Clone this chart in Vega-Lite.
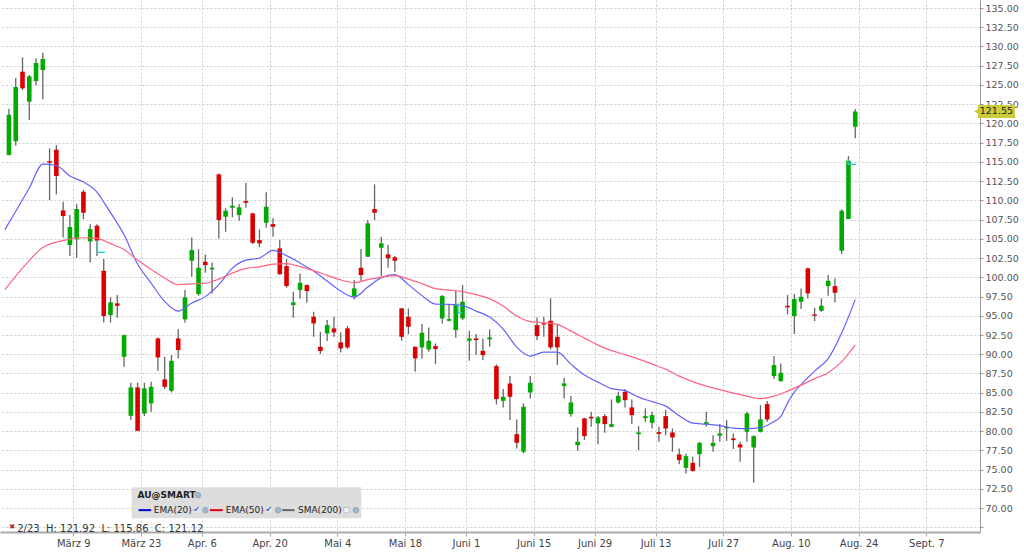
{
  "$schema": "https://vega.github.io/schema/vega-lite/v6.json",
  "width": 980,
  "height": 532,
  "autosize": {"type": "none"},
  "padding": {"left": 0, "top": 0, "right": 44, "bottom": 23},
  "background": "white",
  "config": {
    "view": {"stroke": null},
    "font": "DejaVu Sans"
  },
  "datasets": {
    "candles": [
      {"i": 0, "o": 115.9, "h": 121.92, "l": 115.86, "c": 121.12},
      {"i": 1, "o": 117.67, "h": 125.9, "l": 117.1, "c": 124.73},
      {"i": 2, "o": 126.72, "h": 128.59, "l": 124.34, "c": 124.56},
      {"i": 3, "o": 122.82, "h": 126.29, "l": 120.44, "c": 126.12},
      {"i": 4, "o": 125.51, "h": 128.46, "l": 124.95, "c": 127.85},
      {"i": 5, "o": 126.94, "h": 129.19, "l": 123.13, "c": 128.37},
      {"i": 6, "o": 115.1, "h": 116.76, "l": 110.04, "c": 114.9},
      {"i": 7, "o": 116.58, "h": 117.19, "l": 110.78, "c": 113.16},
      {"i": 8, "o": 108.7, "h": 109.82, "l": 105.19, "c": 107.96},
      {"i": 9, "o": 104.19, "h": 108.09, "l": 102.76, "c": 106.53},
      {"i": 10, "o": 104.93, "h": 109.52, "l": 102.54, "c": 108.87},
      {"i": 11, "o": 111.12, "h": 111.38, "l": 107.57, "c": 108.39},
      {"i": 12, "o": 104.67, "h": 106.88, "l": 101.94, "c": 106.27},
      {"i": 13, "o": 106.7, "h": 106.88, "l": 102.76, "c": 104.75},
      {"i": 14, "o": 100.85, "h": 102.37, "l": 94.14, "c": 94.96},
      {"i": 15, "o": 95.09, "h": 97.39, "l": 94.14, "c": 96.74},
      {"i": 16, "o": 96.61, "h": 97.69, "l": 94.74, "c": 96.3},
      {"i": 17, "o": 89.67, "h": 92.58, "l": 88.37, "c": 92.49},
      {"i": 18, "o": 82.0, "h": 86.29, "l": 81.44, "c": 85.69},
      {"i": 19, "o": 85.69, "h": 86.29, "l": 80.0, "c": 80.05},
      {"i": 20, "o": 82.31, "h": 86.29, "l": 81.96, "c": 85.56},
      {"i": 21, "o": 83.61, "h": 86.42, "l": 82.52, "c": 85.77},
      {"i": 22, "o": 92.06, "h": 92.19, "l": 87.85, "c": 89.59},
      {"i": 23, "o": 86.73, "h": 89.67, "l": 85.47, "c": 85.77},
      {"i": 24, "o": 85.25, "h": 89.89, "l": 85.04, "c": 89.15},
      {"i": 25, "o": 92.06, "h": 93.27, "l": 89.46, "c": 90.54},
      {"i": 26, "o": 94.53, "h": 98.34, "l": 94.14, "c": 97.39},
      {"i": 27, "o": 102.15, "h": 105.19, "l": 100.07, "c": 103.54},
      {"i": 28, "o": 97.82, "h": 103.63, "l": 97.6, "c": 101.24},
      {"i": 29, "o": 102.02, "h": 102.98, "l": 100.59, "c": 101.59},
      {"i": 30, "o": 101.03, "h": 101.94, "l": 97.91, "c": 101.24},
      {"i": 31, "o": 113.38, "h": 113.5, "l": 105.06, "c": 107.44},
      {"i": 32, "o": 107.87, "h": 108.96, "l": 105.92, "c": 108.65},
      {"i": 33, "o": 109.04, "h": 110.39, "l": 107.79, "c": 109.3},
      {"i": 34, "o": 108.09, "h": 109.52, "l": 107.35, "c": 109.09},
      {"i": 35, "o": 109.91, "h": 112.29, "l": 109.04, "c": 109.69},
      {"i": 36, "o": 108.31, "h": 108.4, "l": 104.32, "c": 104.49},
      {"i": 37, "o": 104.84, "h": 106.23, "l": 103.89, "c": 104.41},
      {"i": 38, "o": 107.09, "h": 111.04, "l": 106.44, "c": 109.17},
      {"i": 39, "o": 106.92, "h": 107.66, "l": 105.27, "c": 106.57},
      {"i": 40, "o": 103.76, "h": 104.84, "l": 100.29, "c": 100.42},
      {"i": 41, "o": 101.46, "h": 102.37, "l": 98.64, "c": 98.86},
      {"i": 42, "o": 96.39, "h": 98.12, "l": 94.74, "c": 96.74},
      {"i": 43, "o": 98.34, "h": 100.51, "l": 97.26, "c": 99.29},
      {"i": 44, "o": 98.99, "h": 99.1, "l": 96.69, "c": 98.21},
      {"i": 45, "o": 94.87, "h": 95.52, "l": 92.27, "c": 94.01},
      {"i": 46, "o": 90.97, "h": 92.92, "l": 90.02, "c": 90.41},
      {"i": 47, "o": 92.71, "h": 94.44, "l": 91.71, "c": 93.79},
      {"i": 48, "o": 93.36, "h": 94.87, "l": 92.27, "c": 92.84},
      {"i": 49, "o": 91.54, "h": 92.84, "l": 90.24, "c": 90.76},
      {"i": 50, "o": 93.36, "h": 93.7, "l": 90.67, "c": 90.89},
      {"i": 51, "o": 97.56, "h": 99.64, "l": 97.13, "c": 98.56},
      {"i": 52, "o": 101.24, "h": 103.67, "l": 99.55, "c": 100.29},
      {"i": 53, "o": 102.67, "h": 107.44, "l": 102.67, "c": 107.01},
      {"i": 54, "o": 108.87, "h": 112.08, "l": 107.44, "c": 108.39},
      {"i": 55, "o": 103.84, "h": 105.27, "l": 100.16, "c": 104.41},
      {"i": 56, "o": 102.98, "h": 104.19, "l": 101.24, "c": 102.46},
      {"i": 57, "o": 102.6, "h": 102.76, "l": 100.72, "c": 102.15},
      {"i": 58, "o": 95.96, "h": 96.04, "l": 91.75, "c": 92.27},
      {"i": 59, "o": 94.87, "h": 95.96, "l": 92.62, "c": 93.57},
      {"i": 60, "o": 90.97, "h": 91.0, "l": 87.72, "c": 89.46},
      {"i": 61, "o": 90.89, "h": 93.92, "l": 89.46, "c": 92.79},
      {"i": 62, "o": 90.63, "h": 93.49, "l": 90.32, "c": 91.75},
      {"i": 63, "o": 91.06, "h": 91.41, "l": 88.72, "c": 90.67},
      {"i": 64, "o": 94.66, "h": 97.69, "l": 94.01, "c": 97.56},
      {"i": 65, "o": 94.35, "h": 96.39, "l": 94.3, "c": 94.57},
      {"i": 66, "o": 93.14, "h": 98.25, "l": 92.14, "c": 96.39},
      {"i": 67, "o": 94.66, "h": 98.99, "l": 94.44, "c": 96.82},
      {"i": 68, "o": 91.75, "h": 93.05, "l": 89.15, "c": 92.06},
      {"i": 69, "o": 92.06, "h": 92.62, "l": 89.89, "c": 91.84},
      {"i": 70, "o": 90.45, "h": 92.06, "l": 89.24, "c": 89.89},
      {"i": 71, "o": 91.93, "h": 93.23, "l": 90.97, "c": 92.19},
      {"i": 72, "o": 88.46, "h": 88.68, "l": 83.48, "c": 84.17},
      {"i": 73, "o": 83.95, "h": 85.47, "l": 83.09, "c": 84.47},
      {"i": 74, "o": 86.21, "h": 87.16, "l": 81.44, "c": 84.47},
      {"i": 75, "o": 79.62, "h": 81.53, "l": 77.76, "c": 78.49},
      {"i": 76, "o": 77.32, "h": 83.61, "l": 77.11, "c": 83.17},
      {"i": 77, "o": 85.04, "h": 87.16, "l": 84.26, "c": 86.29},
      {"i": 78, "o": 93.79, "h": 94.79, "l": 91.84, "c": 92.36},
      {"i": 79, "o": 94.01, "h": 94.87, "l": 92.27, "c": 93.85},
      {"i": 80, "o": 94.35, "h": 97.26, "l": 90.63, "c": 90.89},
      {"i": 81, "o": 92.27, "h": 93.79, "l": 88.59, "c": 90.89},
      {"i": 82, "o": 85.86, "h": 86.94, "l": 84.26, "c": 86.21},
      {"i": 83, "o": 82.22, "h": 84.56, "l": 81.87, "c": 83.74},
      {"i": 84, "o": 78.19, "h": 80.49, "l": 77.45, "c": 78.62},
      {"i": 85, "o": 81.66, "h": 81.74, "l": 78.84, "c": 79.36},
      {"i": 86, "o": 81.87, "h": 82.52, "l": 80.57, "c": 81.66},
      {"i": 87, "o": 81.01, "h": 81.96, "l": 78.32, "c": 81.79},
      {"i": 88, "o": 81.96, "h": 82.22, "l": 79.79, "c": 80.92},
      {"i": 89, "o": 80.57, "h": 84.13, "l": 80.5, "c": 80.92},
      {"i": 90, "o": 83.74, "h": 85.12, "l": 83.61, "c": 84.6},
      {"i": 91, "o": 85.12, "h": 85.47, "l": 83.09, "c": 84.04},
      {"i": 92, "o": 83.09, "h": 84.13, "l": 80.92, "c": 82.09},
      {"i": 93, "o": 79.62, "h": 80.66, "l": 77.54, "c": 79.84},
      {"i": 94, "o": 81.7, "h": 82.96, "l": 81.22, "c": 81.96},
      {"i": 95, "o": 81.09, "h": 82.52, "l": 80.36, "c": 82.09},
      {"i": 96, "o": 79.88, "h": 80.57, "l": 78.62, "c": 79.66},
      {"i": 97, "o": 81.96, "h": 82.74, "l": 79.49, "c": 80.36},
      {"i": 98, "o": 79.84, "h": 80.36, "l": 77.32, "c": 79.19},
      {"i": 99, "o": 76.98, "h": 77.76, "l": 75.72, "c": 76.24},
      {"i": 100, "o": 75.24, "h": 77.11, "l": 74.51, "c": 76.76},
      {"i": 101, "o": 75.89, "h": 76.67, "l": 74.72, "c": 74.85},
      {"i": 102, "o": 77.02, "h": 78.62, "l": 75.37, "c": 78.49},
      {"i": 103, "o": 80.92, "h": 82.52, "l": 80.57, "c": 81.18},
      {"i": 104, "o": 78.06, "h": 79.49, "l": 77.32, "c": 78.49},
      {"i": 105, "o": 79.4, "h": 80.92, "l": 78.62, "c": 79.71},
      {"i": 106, "o": 80.36, "h": 81.44, "l": 78.75, "c": 80.57},
      {"i": 107, "o": 79.06, "h": 79.71, "l": 77.67, "c": 78.84},
      {"i": 108, "o": 78.28, "h": 78.62, "l": 76.02, "c": 77.89},
      {"i": 109, "o": 79.92, "h": 82.52, "l": 78.62, "c": 82.31},
      {"i": 110, "o": 77.89, "h": 79.49, "l": 73.29, "c": 79.36},
      {"i": 111, "o": 79.92, "h": 83.39, "l": 79.84, "c": 81.53},
      {"i": 112, "o": 83.52, "h": 83.91, "l": 81.22, "c": 81.53},
      {"i": 113, "o": 87.16, "h": 89.76, "l": 86.77, "c": 88.59},
      {"i": 114, "o": 86.51, "h": 88.81, "l": 86.42, "c": 87.59},
      {"i": 115, "o": 96.3, "h": 97.69, "l": 95.18, "c": 96.1},
      {"i": 116, "o": 94.96, "h": 97.82, "l": 92.62, "c": 97.17},
      {"i": 117, "o": 96.82, "h": 98.56, "l": 95.87, "c": 97.47},
      {"i": 118, "o": 101.16, "h": 101.29, "l": 97.26, "c": 97.91},
      {"i": 119, "o": 95.18, "h": 96.04, "l": 94.31, "c": 95.0},
      {"i": 120, "o": 95.65, "h": 97.26, "l": 95.52, "c": 96.3},
      {"i": 121, "o": 98.86, "h": 100.29, "l": 97.6, "c": 99.55},
      {"i": 122, "o": 98.86, "h": 99.86, "l": 96.74, "c": 97.99},
      {"i": 123, "o": 103.45, "h": 108.83, "l": 103.02, "c": 108.65},
      {"i": 124, "o": 107.57, "h": 115.76, "l": 107.57, "c": 115.15},
      {"i": 125, "o": 119.57, "h": 121.87, "l": 118.06, "c": 121.55}
    ],
    "ema": [
      {"s": "EMA(20)", "i": -0.6, "p": 106.2},
      {"s": "EMA(20)", "i": 3, "p": 111.61},
      {"s": "EMA(20)", "i": 5, "p": 114.72},
      {"s": "EMA(20)", "i": 7, "p": 114.53},
      {"s": "EMA(20)", "i": 9, "p": 113.16},
      {"s": "EMA(20)", "i": 11, "p": 112.38},
      {"s": "EMA(20)", "i": 13, "p": 111.08},
      {"s": "EMA(20)", "i": 14, "p": 109.78},
      {"s": "EMA(20)", "i": 15, "p": 108.41},
      {"s": "EMA(20)", "i": 17, "p": 105.52},
      {"s": "EMA(20)", "i": 19, "p": 101.72},
      {"s": "EMA(20)", "i": 21, "p": 99.25},
      {"s": "EMA(20)", "i": 23, "p": 96.87},
      {"s": "EMA(20)", "i": 25, "p": 95.61},
      {"s": "EMA(20)", "i": 27, "p": 96.65},
      {"s": "EMA(20)", "i": 29, "p": 97.49},
      {"s": "EMA(20)", "i": 31, "p": 99.05},
      {"s": "EMA(20)", "i": 33, "p": 101.2},
      {"s": "EMA(20)", "i": 35, "p": 102.24},
      {"s": "EMA(20)", "i": 37, "p": 102.5},
      {"s": "EMA(20)", "i": 39, "p": 103.5},
      {"s": "EMA(20)", "i": 41, "p": 102.82},
      {"s": "EMA(20)", "i": 43, "p": 101.85},
      {"s": "EMA(20)", "i": 45, "p": 100.81},
      {"s": "EMA(20)", "i": 47, "p": 99.51},
      {"s": "EMA(20)", "i": 49, "p": 98.21},
      {"s": "EMA(20)", "i": 51, "p": 97.43},
      {"s": "EMA(20)", "i": 53, "p": 98.73},
      {"s": "EMA(20)", "i": 55, "p": 99.96},
      {"s": "EMA(20)", "i": 57, "p": 100.35},
      {"s": "EMA(20)", "i": 59, "p": 99.05},
      {"s": "EMA(20)", "i": 61, "p": 97.62},
      {"s": "EMA(20)", "i": 63, "p": 96.52},
      {"s": "EMA(20)", "i": 65, "p": 96.48},
      {"s": "EMA(20)", "i": 67, "p": 96.32},
      {"s": "EMA(20)", "i": 69, "p": 95.61},
      {"s": "EMA(20)", "i": 71, "p": 94.83},
      {"s": "EMA(20)", "i": 73, "p": 93.27},
      {"s": "EMA(20)", "i": 75, "p": 90.93},
      {"s": "EMA(20)", "i": 77, "p": 89.76},
      {"s": "EMA(20)", "i": 79, "p": 90.28},
      {"s": "EMA(20)", "i": 81, "p": 90.28},
      {"s": "EMA(20)", "i": 83, "p": 88.72},
      {"s": "EMA(20)", "i": 85, "p": 87.29},
      {"s": "EMA(20)", "i": 87, "p": 86.38},
      {"s": "EMA(20)", "i": 89, "p": 85.53},
      {"s": "EMA(20)", "i": 91, "p": 85.27},
      {"s": "EMA(20)", "i": 93, "p": 84.43},
      {"s": "EMA(20)", "i": 95, "p": 83.84},
      {"s": "EMA(20)", "i": 97, "p": 83.26},
      {"s": "EMA(20)", "i": 99, "p": 82.02},
      {"s": "EMA(20)", "i": 101, "p": 81.05},
      {"s": "EMA(20)", "i": 103, "p": 80.92},
      {"s": "EMA(20)", "i": 105, "p": 80.72},
      {"s": "EMA(20)", "i": 107, "p": 80.4},
      {"s": "EMA(20)", "i": 109, "p": 80.33},
      {"s": "EMA(20)", "i": 111, "p": 80.46},
      {"s": "EMA(20)", "i": 113, "p": 81.26},
      {"s": "EMA(20)", "i": 114, "p": 81.9},
      {"s": "EMA(20)", "i": 115, "p": 83.65},
      {"s": "EMA(20)", "i": 116, "p": 85.08},
      {"s": "EMA(20)", "i": 117, "p": 86.05},
      {"s": "EMA(20)", "i": 119, "p": 87.81},
      {"s": "EMA(20)", "i": 121, "p": 89.43},
      {"s": "EMA(20)", "i": 123, "p": 92.75},
      {"s": "EMA(20)", "i": 125, "p": 97.1},
      {"s": "EMA(50)", "i": -0.6, "p": 98.4},
      {"s": "EMA(50)", "i": 2, "p": 101.2},
      {"s": "EMA(50)", "i": 5, "p": 103.86},
      {"s": "EMA(50)", "i": 8, "p": 104.77},
      {"s": "EMA(50)", "i": 11, "p": 105.14},
      {"s": "EMA(50)", "i": 13, "p": 105.06},
      {"s": "EMA(50)", "i": 15, "p": 104.38},
      {"s": "EMA(50)", "i": 17, "p": 103.6},
      {"s": "EMA(50)", "i": 19, "p": 102.24},
      {"s": "EMA(50)", "i": 21, "p": 101.0},
      {"s": "EMA(50)", "i": 23, "p": 99.9},
      {"s": "EMA(50)", "i": 25, "p": 99.05},
      {"s": "EMA(50)", "i": 27, "p": 99.14},
      {"s": "EMA(50)", "i": 29, "p": 99.25},
      {"s": "EMA(50)", "i": 31, "p": 99.77},
      {"s": "EMA(50)", "i": 33, "p": 100.55},
      {"s": "EMA(50)", "i": 35, "p": 101.16},
      {"s": "EMA(50)", "i": 37, "p": 101.35},
      {"s": "EMA(50)", "i": 39, "p": 101.72},
      {"s": "EMA(50)", "i": 41, "p": 101.78},
      {"s": "EMA(50)", "i": 43, "p": 101.39},
      {"s": "EMA(50)", "i": 45, "p": 100.87},
      {"s": "EMA(50)", "i": 47, "p": 100.26},
      {"s": "EMA(50)", "i": 49, "p": 99.66},
      {"s": "EMA(50)", "i": 51, "p": 99.31},
      {"s": "EMA(50)", "i": 53, "p": 99.7},
      {"s": "EMA(50)", "i": 55, "p": 100.03},
      {"s": "EMA(50)", "i": 57, "p": 100.22},
      {"s": "EMA(50)", "i": 59, "p": 99.77},
      {"s": "EMA(50)", "i": 61, "p": 99.18},
      {"s": "EMA(50)", "i": 63, "p": 98.53},
      {"s": "EMA(50)", "i": 65, "p": 98.34},
      {"s": "EMA(50)", "i": 67, "p": 98.14},
      {"s": "EMA(50)", "i": 69, "p": 97.75},
      {"s": "EMA(50)", "i": 71, "p": 97.23},
      {"s": "EMA(50)", "i": 73, "p": 96.26},
      {"s": "EMA(50)", "i": 75, "p": 94.96},
      {"s": "EMA(50)", "i": 77, "p": 94.24},
      {"s": "EMA(50)", "i": 79, "p": 94.11},
      {"s": "EMA(50)", "i": 81, "p": 93.88},
      {"s": "EMA(50)", "i": 83, "p": 93.01},
      {"s": "EMA(50)", "i": 85, "p": 92.1},
      {"s": "EMA(50)", "i": 87, "p": 91.19},
      {"s": "EMA(50)", "i": 89, "p": 90.47},
      {"s": "EMA(50)", "i": 91, "p": 89.95},
      {"s": "EMA(50)", "i": 93, "p": 89.37},
      {"s": "EMA(50)", "i": 95, "p": 88.72},
      {"s": "EMA(50)", "i": 97, "p": 88.07},
      {"s": "EMA(50)", "i": 99, "p": 87.16},
      {"s": "EMA(50)", "i": 101, "p": 86.44},
      {"s": "EMA(50)", "i": 103, "p": 85.86},
      {"s": "EMA(50)", "i": 105, "p": 85.4},
      {"s": "EMA(50)", "i": 107, "p": 84.95},
      {"s": "EMA(50)", "i": 109, "p": 84.56},
      {"s": "EMA(50)", "i": 111, "p": 84.23},
      {"s": "EMA(50)", "i": 113, "p": 84.56},
      {"s": "EMA(50)", "i": 115, "p": 85.21},
      {"s": "EMA(50)", "i": 117, "p": 85.99},
      {"s": "EMA(50)", "i": 119, "p": 86.83},
      {"s": "EMA(50)", "i": 121, "p": 87.61},
      {"s": "EMA(50)", "i": 123, "p": 89.04},
      {"s": "EMA(50)", "i": 125, "p": 91.19}
    ]
  },
  "layer": [
    {
      "data": {"values": [{"i": 18.13, "i2": 52.05, "p": 72.73, "p2": 68.7}]},
      "mark": {"type": "rect", "color": "#dddddd"},
      "encoding": {
        "x": {
          "field": "i",
          "type": "quantitative",
          "scale": {"domain": [-0.585, 142.69], "nice": false, "zero": false},
          "axis": {
            "title": null,
            "values": [9.5, 19.5, 28.5, 38.5, 48.5, 58.5, 67.5, 77.5, 86.5, 95.5, 105.5, 115.5, 125.5, 135.5],
            "tickCount": 40,
            "labelExpr": "['März 9','März 23','Apr. 6','Apr. 20','Mai 4','Mai 18','Juni 1','Juni 15','Juni 29','Juli 13','Juli 27','Aug. 10','Aug. 24','Sept. 7'][indexof([9.5,19.5,28.5,38.5,48.5,58.5,67.5,77.5,86.5,95.5,105.5,115.5,125.5,135.5], datum.value)]",
            "grid": true,
            "gridDash": [2, 2],
            "gridColor": "#cccccc",
            "domainColor": "#aaaaaa",
            "domainWidth": 2,
            "tickColor": "#aaaaaa",
            "tickSize": 4,
            "labelFontSize": 10,
            "labelColor": "#444444",
            "labelPadding": 2,
            "labelFlush": false,
            "labelOverlap": false
          }
        },
        "x2": {"field": "i2"},
        "y": {
          "field": "p",
          "type": "quantitative",
          "scale": {"domain": [66.9, 136.04], "nice": false, "zero": false},
          "axis": {
            "title": null,
            "orient": "right",
            "values": [67.5, 70, 72.5, 75, 77.5, 80, 82.5, 85, 87.5, 90, 92.5, 95, 97.5, 100, 102.5, 105, 107.5, 110, 112.5, 115, 117.5, 120, 122.5, 125, 127.5, 130, 132.5, 135],
            "tickCount": 60,
            "labelExpr": "datum.value < 69 ? '' : format(datum.value, '.2f')",
            "grid": true,
            "gridDash": [2, 2],
            "gridColor": "#cccccc",
            "domainColor": "#999999",
            "tickColor": "#999999",
            "tickSize": 3,
            "labelFontSize": 9.5,
            "labelColor": "#555555",
            "labelPadding": 2,
            "labelFlush": false,
            "labelOverlap": false
          }
        },
        "y2": {"field": "p2"}
      }
    },
    {
      "data": {"name": "candles"},
      "mark": {"type": "rule", "color": "#666666", "strokeWidth": 1.3},
      "encoding": {
        "x": {"field": "i", "type": "quantitative"},
        "y": {"field": "l", "type": "quantitative"},
        "y2": {"field": "h"}
      }
    },
    {
      "data": {"name": "candles"},
      "mark": {"type": "bar", "size": 4.6},
      "encoding": {
        "x": {"field": "i", "type": "quantitative"},
        "y": {"field": "o", "type": "quantitative"},
        "y2": {"field": "c"},
        "color": {
          "condition": {"test": "datum.c >= datum.o", "value": "#00aa00"},
          "value": "#dd0000"
        }
      }
    },
    {
      "data": {"name": "ema"},
      "mark": {"type": "line", "strokeWidth": 1.2, "interpolate": "monotone", "clip": true},
      "encoding": {
        "x": {"field": "i", "type": "quantitative"},
        "y": {"field": "p", "type": "quantitative"},
        "color": {
          "field": "s",
          "type": "nominal",
          "scale": {"domain": ["EMA(20)", "EMA(50)"], "range": ["#6262ff", "#ff6482"]},
          "legend": null
        }
      }
    },
    {
      "data": {"values": [
        {"i": 13.06, "i2": 13.06, "p": 104.84, "p2": 103.24},
        {"i": 13.06, "i2": 14.18, "p": 103.24, "p2": 103.24},
        {"i": 66.33, "i2": 66.33, "p": 96.61, "p2": 95.39},
        {"i": 66.33, "i2": 66.9, "p": 95.39, "p2": 95.39},
        {"i": 123.93, "i2": 123.93, "p": 115.33, "p2": 114.68},
        {"i": 123.93, "i2": 125.15, "p": 114.68, "p2": 114.68}
      ]},
      "mark": {"type": "rule", "color": "#33cccc", "strokeWidth": 1.5},
      "encoding": {
        "x": {"field": "i", "type": "quantitative"},
        "x2": {"field": "i2"},
        "y": {"field": "p", "type": "quantitative"},
        "y2": {"field": "p2"}
      }
    },
    {
      "data": {"values": [
        {"s": "EMA(20)", "i": 19.15, "i2": 21.01, "p": 69.74},
        {"s": "EMA(50)", "i": 29.68, "i2": 31.58, "p": 69.74},
        {"s": "SMA(200)", "i": 40.35, "i2": 42.18, "p": 69.74}
      ]},
      "mark": {"type": "rule", "strokeWidth": 2},
      "encoding": {
        "x": {"field": "i", "type": "quantitative"},
        "x2": {"field": "i2"},
        "y": {"field": "p", "type": "quantitative"},
        "color": {
          "condition": [
            {"test": "datum.s === 'EMA(20)'", "value": "#0000cc"},
            {"test": "datum.s === 'EMA(50)'", "value": "#dd0011"}
          ],
          "value": "#666666"
        }
      }
    },
    {
      "data": {"values": [{"t": "AU@SMART", "i": 19.0, "p": 71.69}]},
      "mark": {"type": "text", "align": "left", "baseline": "middle", "fontSize": 9, "fontWeight": "bold", "color": "#222222"},
      "encoding": {
        "x": {"field": "i", "type": "quantitative"},
        "y": {"field": "p", "type": "quantitative"},
        "text": {"field": "t"}
      }
    },
    {
      "data": {"values": [
        {"t": "EMA(20)", "i": 21.39, "p": 69.74},
        {"t": "EMA(50)", "i": 32.02, "p": 69.74},
        {"t": "SMA(200)", "i": 42.69, "p": 69.74}
      ]},
      "mark": {"type": "text", "align": "left", "baseline": "middle", "fontSize": 9, "color": "#222222"},
      "encoding": {
        "x": {"field": "i", "type": "quantitative"},
        "y": {"field": "p", "type": "quantitative"},
        "text": {"field": "t"}
      }
    },
    {
      "data": {"values": [{"i": 27.72, "p": 69.74}, {"i": 38.39, "p": 69.74}]},
      "mark": {"type": "point", "shape": "square", "filled": true, "color": "#eeeeee", "size": 30},
      "encoding": {
        "x": {"field": "i", "type": "quantitative"},
        "y": {"field": "p", "type": "quantitative"}
      }
    },
    {
      "data": {"values": [
        {"t": "✔", "i": 27.72, "p": 69.7},
        {"t": "✔", "i": 38.39, "p": 69.7}
      ]},
      "mark": {"type": "text", "align": "center", "baseline": "middle", "fontSize": 8, "color": "#2a6fd6"},
      "encoding": {
        "x": {"field": "i", "type": "quantitative"},
        "y": {"field": "p", "type": "quantitative"},
        "text": {"field": "t"}
      }
    },
    {
      "data": {"values": [{"i": 49.85, "p": 69.74}]},
      "mark": {"type": "point", "shape": "square", "filled": true, "fill": "white", "stroke": "#aaaaaa", "strokeWidth": 0.8, "size": 28},
      "encoding": {
        "x": {"field": "i", "type": "quantitative"},
        "y": {"field": "p", "type": "quantitative"}
      }
    },
    {
      "data": {"values": [
        {"i": 27.92, "p": 71.69},
        {"i": 29.02, "p": 69.74},
        {"i": 39.77, "p": 69.74},
        {"i": 51.24, "p": 69.74}
      ]},
      "mark": {"type": "point", "shape": "circle", "filled": true, "color": "#86a6c8", "size": 32, "stroke": "#5a7ea6", "strokeWidth": 0.6},
      "encoding": {
        "x": {"field": "i", "type": "quantitative"},
        "y": {"field": "p", "type": "quantitative"}
      }
    },
    {
      "data": {"values": [{"t": "✖", "i": 0.48, "p": 67.6}]},
      "mark": {"type": "text", "align": "center", "baseline": "middle", "fontSize": 7, "color": "#aa2222"},
      "encoding": {
        "x": {"field": "i", "type": "quantitative"},
        "y": {"field": "p", "type": "quantitative"},
        "text": {"field": "t"}
      }
    },
    {
      "data": {"values": [{"t": "2/23\u00a0 H: 121.92\u00a0 L: 115.86\u00a0 C: 121.12", "i": 1.21, "p": 67.25}]},
      "mark": {"type": "text", "align": "left", "baseline": "middle", "fontSize": 10, "color": "#333333"},
      "encoding": {
        "x": {"field": "i", "type": "quantitative"},
        "y": {"field": "p", "type": "quantitative"},
        "text": {"field": "t"}
      }
    },
    {
      "data": {"values": [{"i": 143.13, "i2": 148.6, "p": 122.39, "p2": 120.7}]},
      "mark": {"type": "rect", "color": "#cccc3a"},
      "encoding": {
        "x": {"field": "i", "type": "quantitative"},
        "x2": {"field": "i2"},
        "y": {"field": "p", "type": "quantitative"},
        "y2": {"field": "p2"}
      }
    },
    {
      "data": {"values": [{"i": 142.95, "p": 121.55}]},
      "mark": {"type": "point", "shape": "triangle-left", "filled": true, "color": "#cccc3a", "size": 45, "opacity": 1},
      "encoding": {
        "x": {"field": "i", "type": "quantitative"},
        "y": {"field": "p", "type": "quantitative"}
      }
    },
    {
      "data": {"values": [{"t": "121.55", "i": 145.85, "p": 121.55}]},
      "mark": {"type": "text", "align": "center", "baseline": "middle", "fontSize": 9.5, "color": "#222222"},
      "encoding": {
        "x": {"field": "i", "type": "quantitative"},
        "y": {"field": "p", "type": "quantitative"},
        "text": {"field": "t"}
      }
    }
  ]
}
